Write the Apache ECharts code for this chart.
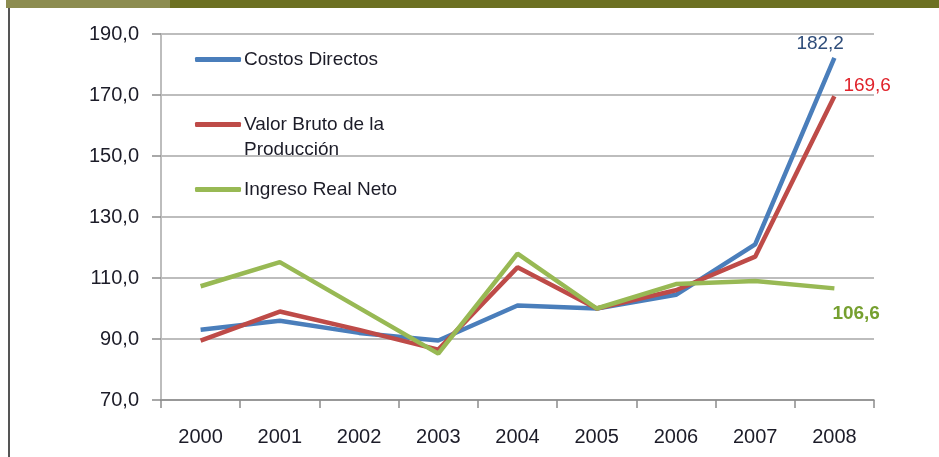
<!DOCTYPE html>
<html>
<head>
<meta charset="utf-8">
<title>Índices</title>
<script src="https://cdn.jsdelivr.net/npm/echarts@6/dist/echarts.min.js"></script>
<style>
  html, body { margin: 0; padding: 0; background: #fff; }
  #chart { width: 939px; height: 457px; }
</style>
</head>
<body>
<div id="chart"></div>
<script>
// data
var years = ['2000', '2001', '2002', '2003', '2004', '2005', '2006', '2007', '2008'];
var costosDirectos = [93.0, 96.0, 92.0, 89.5, 101.0, 100.0, 104.5, 121.0, 182.2];
var valorBruto = [89.5, 99.0, 93.0, 86.5, 113.5, 100.0, 106.0, 117.0, 169.6];
var ingresoReal = [107.3, 115.2, 100.2, 85.2, 118.0, 100.0, 108.0, 109.0, 106.6];
var yTicks = [70, 90, 110, 130, 150, 170, 190];

var fmt = function (v) { return v.toFixed(1).replace('.', ','); };
var font = 'Liberation Sans';
var txt = '#1c1c28';

// value printed at the end of each line
function endLabel(color, offset, weight) {
  return {
    show: true, distance: 0, offset: offset, color: color,
    fontFamily: font, fontSize: 19, fontWeight: weight || 'normal',
    formatter: function (p) { return fmt(p.value); }
  };
}

var chart = echarts.init(document.getElementById('chart'));
chart.setOption({
  animation: false,
  grid: { left: 161, right: 65, top: 34, bottom: 57 },
  graphic: [
    { type: 'rect', shape: { x: 6, y: 0, width: 164, height: 8 }, style: { fill: '#8c8c50' } },
    { type: 'rect', shape: { x: 170, y: 0, width: 769, height: 8 }, style: { fill: '#6c7022' } },
    { type: 'rect', shape: { x: 8, y: 8, width: 2, height: 449 }, style: { fill: '#555' } }
  ],
  legend: {
    orient: 'vertical',
    left: 190,
    top: 42,
    itemWidth: 46,
    itemHeight: 5,
    itemGap: 15,
    icon: 'roundRect',
    textStyle: { fontFamily: font, fontSize: 19, color: txt, lineHeight: 25, padding: [0, 0, 0, -2] },
    // blank first line so the two-line name hangs below its line
    formatter: function (name) { return name.indexOf('\n') >= 0 ? ' \n' + name : name; },
    data: ['Costos Directos', 'Valor Bruto de la\nProducción', 'Ingreso Real Neto']
  },
  xAxis: {
    type: 'category',
    data: years,
    boundaryGap: true,
    axisLine: { lineStyle: { color: '#8c8c8c', width: 1.5 } },
    axisTick: { show: true, length: 8, lineStyle: { color: '#8c8c8c', width: 1.5 } },
    axisLabel: { fontFamily: font, fontSize: 20, color: txt, margin: 27 }
  },
  yAxis: {
    type: 'value',
    min: yTicks[0],
    max: yTicks[yTicks.length - 1],
    interval: 20,
    axisLine: { show: true, lineStyle: { color: '#bdbdbd', width: 2 } },
    axisTick: { show: true, length: 9, lineStyle: { color: '#8c8c8c', width: 1.5 } },
    splitLine: { lineStyle: { color: '#bdbdbd', width: 2 } },
    axisLabel: { fontFamily: font, fontSize: 20, color: txt, margin: 22, formatter: fmt }
  },
  series: [
    {
      name: 'Costos Directos', type: 'line', symbol: 'none',
      color: '#4a7ebb', lineStyle: { width: 4.5 },
      endLabel: endLabel('#2f4d7a', [-38, -14]),
      data: costosDirectos
    },
    {
      name: 'Valor Bruto de la\nProducción', type: 'line', symbol: 'none',
      color: '#be4b48', lineStyle: { width: 4.5 },
      endLabel: endLabel('#e0232b', [9, -10]),
      data: valorBruto
    },
    {
      name: 'Ingreso Real Neto', type: 'line', symbol: 'none',
      color: '#98b954', lineStyle: { width: 4.5 },
      endLabel: endLabel('#76a030', [-2, 25], 'bold'),
      data: ingresoReal
    }
  ]
});
</script>
</body>
</html>
